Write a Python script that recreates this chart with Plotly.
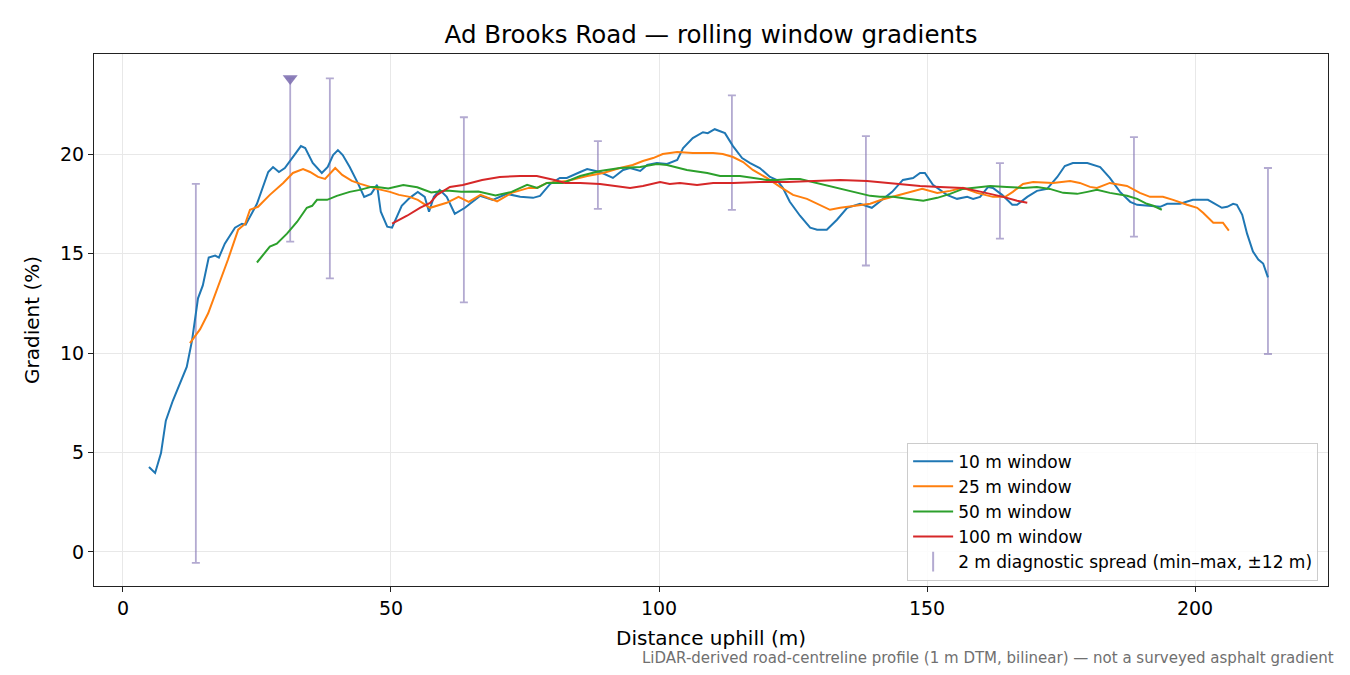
import plotly.graph_objects as go

# 10 m window
x10 = [4.85, 6.0, 7.1, 8.0, 9.3, 10.6, 11.9, 12.9, 14.0, 14.9, 16.0, 17.2, 17.9, 19.0, 20.9, 22.2, 22.9,
       25.0, 27.1, 28.0, 29.1, 30.2, 31.7, 33.2, 34.0, 35.4, 37.1, 38.2, 39.2, 40.1, 41.0, 42.3, 43.8,
       45.0, 46.3, 47.4, 48.1, 49.3, 50.2, 52.0, 53.5, 55.0, 56.3, 57.1, 58.0, 59.1, 60.4, 61.9, 63.8,
       66.6, 69.0, 71.6, 74.1, 76.5, 77.8, 79.7, 81.5, 82.8, 85.3, 86.6, 89.0, 91.4, 93.3, 94.6, 96.5,
       97.8, 99.6, 101.5, 103.4, 104.5, 106.3, 108.2, 109.1, 110.4, 112.3, 113.8, 115.5, 117.0, 118.8,
       120.7, 122.0, 123.1, 124.4, 126.3, 128.2, 129.5, 131.3, 133.2, 135.1, 137.5, 139.7, 141.2, 143.5,
       145.5, 147.4, 148.7, 149.6, 151.1, 153.7, 155.6, 157.5, 158.6, 159.9, 161.4, 162.3, 164.0, 165.9,
       166.8, 168.7, 170.5, 172.4, 174.3, 175.7, 177.2, 179.9, 182.3, 184.1, 186.0, 187.9, 189.2, 191.0,
       193.5, 194.8, 197.2, 199.6, 202.4, 203.4, 205.0, 206.0, 207.1, 207.8, 208.8, 209.7, 210.8, 211.8,
       212.7, 213.6]
g10 = [4.27, 3.97, 4.97, 6.6, 7.6, 8.5, 9.3, 10.65, 12.75, 13.4, 14.8, 14.9, 14.8, 15.5, 16.3, 16.5, 16.45,
       17.5, 19.1, 19.35, 19.1, 19.3, 19.85, 20.4, 20.3, 19.55, 19.05, 19.35, 19.95, 20.2, 19.95, 19.35, 18.55,
       17.85, 18.0, 18.45, 17.1, 16.35, 16.3, 17.4, 17.8, 18.1, 17.85, 17.1, 17.85, 18.2, 17.85, 17.0, 17.3,
       17.9, 17.7, 18.0, 17.85, 17.8, 17.9, 18.5, 18.8, 18.8, 19.1, 19.25, 19.1, 18.8, 19.2, 19.3, 19.15,
       19.45, 19.55, 19.5, 19.7, 20.3, 20.8, 21.1, 21.05, 21.25, 21.05, 20.4, 19.8, 19.55, 19.3,
       18.85, 18.7, 18.3, 17.6, 16.9, 16.3, 16.2, 16.2, 16.7, 17.3, 17.5, 17.3, 17.6, 18.1,
       18.7, 18.8, 19.05, 19.05, 18.45, 17.95, 17.75, 17.85, 17.75, 17.85, 18.35, 18.3, 17.95, 17.45,
       17.45, 17.85, 18.15, 18.25, 18.85, 19.4, 19.55, 19.55, 19.35, 18.8, 18.1, 17.6, 17.45, 17.4,
       17.35, 17.5, 17.5, 17.7, 17.7, 17.55, 17.3, 17.35, 17.5, 17.45, 16.95, 16.0, 15.1, 14.7,
       14.5, 13.8]

# 25 m window
x25 = [12.5, 14.4, 15.9, 17.7, 19.6, 21.5, 22.8, 23.7, 25.2, 27.4, 29.9, 31.7, 33.6, 34.9, 36.4, 37.7,
       39.6, 40.9, 42.7, 44.3, 46.1, 47.4, 49.8, 51.5, 53.5, 55.0, 57.3, 60.4, 62.6, 64.5, 66.7, 69.8,
       72.5, 75.7, 77.2, 79.1, 82.8, 86.6, 89.6, 92.7, 95.1, 97.0, 98.9, 100.7, 103.4, 106.3, 110.1,
       111.9, 113.8, 115.7, 117.5, 120.1, 122.6, 125.0, 127.6, 130.0, 131.9, 133.8, 136.9, 139.4, 141.5,
       143.7, 146.3, 149.1, 151.9, 154.3, 156.7, 159.3, 162.3, 164.6, 166.0, 167.9, 169.8, 173.5, 176.7,
       178.5, 180.4, 181.7, 184.1, 187.3, 189.7, 191.6, 194.0, 195.9, 198.5, 200.4, 201.5, 203.4, 205.2,
       206.3]
g25 = [10.5, 11.2, 12.0, 13.3, 14.7, 16.2, 16.5, 17.2, 17.35, 17.95, 18.55, 19.05, 19.25, 19.1, 18.85, 18.75,
       19.3, 18.95, 18.65, 18.5, 18.35, 18.25, 18.1, 17.95, 17.85, 17.7, 17.3, 17.55, 17.85, 17.6, 17.95, 17.62,
       18.05, 18.3, 18.3, 18.55, 18.65, 18.9, 19.05, 19.3, 19.45, 19.65, 19.8, 20.0, 20.1, 20.05, 20.05,
       20.0, 19.85, 19.6, 19.2, 18.8, 18.35, 17.95, 17.75, 17.45, 17.2, 17.3, 17.4, 17.5, 17.7,
       17.85, 18.05, 18.25, 18.05, 18.15, 18.3, 18.05, 17.85, 17.85, 18.1, 18.5, 18.6, 18.55, 18.65,
       18.55, 18.35, 18.3, 18.55, 18.4, 18.05, 17.85, 17.85, 17.7, 17.45, 17.3, 17.05, 16.55, 16.55,
       16.15]

# 50 m window
x50 = [25.0, 26.1, 27.4, 28.7, 30.6, 32.5, 34.3, 35.3, 36.2, 38.1, 39.9, 42.3, 44.2, 46.3, 47.4, 49.5,
       52.3, 54.9, 57.5, 60.4, 63.1, 66.3, 69.5, 72.5, 75.4, 77.3, 79.1, 82.1, 85.3, 89.0, 92.7, 96.5,
       99.6, 101.5, 105.2, 109.0, 111.4, 115.1, 117.5, 120.1, 122.0, 124.4, 126.3, 128.7, 132.5, 136.2,
       139.4, 141.2, 143.7, 146.3, 149.3, 151.9, 154.3, 156.7, 159.9, 161.8, 164.9, 167.9, 170.5, 172.9,
       175.4, 178.0, 179.9, 181.7, 184.1, 187.3, 189.2, 191.0, 192.2, 193.8]
g50 = [14.55, 14.9, 15.35, 15.5, 16.0, 16.6, 17.3, 17.4, 17.7, 17.7, 17.9, 18.1, 18.2, 18.35, 18.35, 18.27,
       18.45, 18.33, 18.07, 18.17, 18.1, 18.12, 17.92, 18.1, 18.45, 18.3, 18.55, 18.55, 18.9, 19.15, 19.3, 19.35,
       19.5, 19.45, 19.2, 19.05, 18.9, 18.9, 18.8, 18.7, 18.7, 18.75, 18.75, 18.6, 18.35, 18.1,
       17.9, 17.85, 17.85, 17.75, 17.65, 17.8, 18.0, 18.25, 18.35, 18.4, 18.35, 18.3, 18.35, 18.25,
       18.05, 18.0, 18.1, 18.2, 18.05, 17.9, 17.75, 17.5, 17.4, 17.2]

# 100 m window
x100 = [50.2, 53.0, 55.4, 57.3, 58.6, 61.0, 63.4, 67.0, 70.3, 74.1, 77.2, 79.1, 80.5, 82.5, 85.3, 89.0,
        92.2, 94.6, 97.0, 100.2, 102.0, 103.9, 107.1, 110.1, 113.8, 118.8, 123.9, 128.7, 133.8, 138.8,
        142.5, 145.0, 148.7, 152.4, 156.7, 159.3, 161.8, 164.2, 166.8, 168.7]
g100 = [16.5, 16.9, 17.3, 17.55, 17.95, 18.35, 18.45, 18.7, 18.85, 18.9, 18.9, 18.8, 18.7, 18.55, 18.55, 18.5,
        18.4, 18.3, 18.4, 18.6, 18.5, 18.55, 18.45, 18.55, 18.55, 18.6, 18.6, 18.65, 18.7, 18.65,
        18.55, 18.5, 18.4, 18.35, 18.3, 18.15, 18.0, 17.85, 17.65, 17.55]

# 2 m diagnostic spread (min-max within +-12 m)
spread_x = [13.6, 31.2, 38.6, 63.6, 88.6, 113.6, 138.6, 163.6, 188.6, 213.6]
spread_lo = [-0.55, 15.6, 13.75, 12.55, 17.25, 17.2, 14.4, 15.75, 15.85, 9.95]
spread_hi = [18.5, 23.8, 23.8, 21.85, 20.65, 22.95, 20.9, 19.55, 20.85, 19.3]
# spread that runs off the top of the axis
clip_x = [31.2]
clip_y = [23.8]

spread_col = "rgba(129,114,179,0.6)"
font = "DejaVu Sans"

fig = go.Figure()

fig.add_trace(go.Scatter(
    x=spread_x, y=spread_lo, mode="markers",
    marker=dict(size=0.1, color="rgba(0,0,0,0)"),
    error_y=dict(type="data", symmetric=False,
                 array=[h - l for h, l in zip(spread_hi, spread_lo)],
                 arrayminus=[0] * len(spread_lo),
                 color=spread_col, thickness=1.8, width=4),
    showlegend=False, hoverinfo="skip"))
fig.add_trace(go.Scatter(
    x=clip_x, y=clip_y, mode="markers",
    marker=dict(symbol="triangle-down", size=13, color="rgba(129,114,179,0.9)", line=dict(width=0)),
    showlegend=False))

for xs, ys, name, col in [(x10, g10, "10 m window", "#1f77b4"),
                          (x25, g25, "25 m window", "#ff7f0e"),
                          (x50, g50, "50 m window", "#2ca02c"),
                          (x100, g100, "100 m window", "#d62728")]:
    fig.add_trace(go.Scatter(x=xs, y=ys, mode="lines", name=name,
                             line=dict(color=col, width=2)))

fig.add_trace(go.Scatter(
    x=[None], y=[None], mode="markers", name="2 m diagnostic spread (min–max, ±12 m)",
    marker=dict(symbol="line-ns-open", size=14, color=spread_col, line=dict(color=spread_col, width=2))))

# page body has an 8px margin, so the figure is 16px smaller than the window
fig.update_layout(
    width=1334, height=659,
    paper_bgcolor="white", plot_bgcolor="white",
    margin=dict(l=86, r=14, t=46, b=81),
    font=dict(family=font, size=19, color="black"),
    title=dict(text="Ad Brooks Road — rolling window gradients", x=0.5, xref="paper",
               y=1 - 26 / 659, yanchor="middle", font=dict(size=24.5, color="black")),
    legend=dict(x=0.992, y=0.01, xanchor="right", yanchor="bottom",
                bgcolor="rgba(255,255,255,0.85)", bordercolor="#cccccc", borderwidth=1,
                font=dict(size=17), tracegroupgap=0, itemwidth=40),
    annotations=[dict(text="LiDAR-derived road-centreline profile (1 m DTM, bilinear) — not a surveyed asphalt gradient",
                      xref="paper", yref="paper", x=1.0065, y=-0.136, xanchor="right", yanchor="middle",
                      showarrow=False, font=dict(size=15, color="#707070"))],
)
axis_common = dict(showline=True, linecolor="#222222", linewidth=1.2, mirror=True,
                   ticks="outside", ticklen=5, tickcolor="#222222",
                   showgrid=True, gridcolor="#e8e8e8", gridwidth=1, zeroline=False)
fig.update_xaxes(range=[-5.4, 224.8], tickvals=[0, 50, 100, 150, 200],
                 title=dict(text="Distance uphill (m)", standoff=13, font=dict(size=20)), **axis_common)
fig.update_yaxes(range=[-1.71, 25.03], tickvals=[0, 5, 10, 15, 20],
                 title=dict(text="Gradient (%)", standoff=14, font=dict(size=20)), **axis_common)

fig.write_html("out.html")
